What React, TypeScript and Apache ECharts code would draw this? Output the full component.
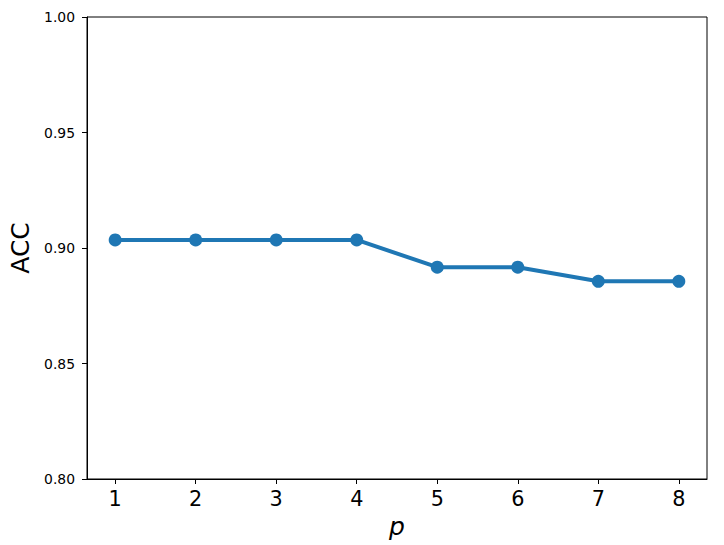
import React, { useEffect, useRef } from "react";
import * as echarts from "echarts";

const pValues = [1, 2, 3, 4, 5, 6, 7, 8];
const accValues = [0.9035, 0.9035, 0.9035, 0.9035, 0.8917, 0.8917, 0.8856, 0.8856];

export default function App() {
  const ref = useRef<HTMLDivElement>(null);
  useEffect(() => {
    if (!ref.current) return;
    const chart = echarts.init(ref.current, null, { renderer: "svg" });
    const font = "DejaVu Sans";
    chart.setOption({
      animation: false,
      backgroundColor: "#fff",
      grid: {
        left: 87,
        right: 17,
        top: 17,
        bottom: 66,
        containLabel: false,
        outerBoundsMode: "none",
        show: true,
        borderColor: "#000",
        borderWidth: 1,
        backgroundColor: "transparent",
      },
      xAxis: {
        type: "value",
        min: 0.65,
        max: 8.35,
        name: "p",
        nameLocation: "middle",
        nameGap: 33,
        nameTextStyle: { fontFamily: font, fontSize: 25, fontStyle: "italic", color: "#000" },
        axisLine: { show: true, onZero: false, lineStyle: { color: "#000", width: 1 } },
        axisTick: { show: true, inside: false, length: 5, lineStyle: { color: "#000" }, customValues: pValues },
        axisLabel: {
          customValues: pValues,
          fontFamily: font,
          fontSize: 20.8,
          color: "#000",
          margin: 9,
          formatter: (v: number) => String(v),
        },
        splitLine: { show: false },
      },
      yAxis: {
        type: "value",
        min: 0.8,
        max: 1.0,
        interval: 0.05,
        name: "ACC",
        nameLocation: "middle",
        nameGap: 54,
        nameTextStyle: { fontFamily: font, fontSize: 25, color: "#000" },
        axisLine: { show: true, onZero: false, lineStyle: { color: "#000", width: 1 } },
        axisTick: { show: true, inside: false, length: 5, lineStyle: { color: "#000" } },
        axisLabel: {
          fontFamily: font,
          fontSize: 13.9,
          color: "#000",
          margin: 12,
          formatter: (v: number) => v.toFixed(2),
        },
        splitLine: { show: false },
      },
      series: [
        {
          type: "line",
          data: pValues.map((p, i) => [p, accValues[i]]),
          symbol: "circle",
          symbolSize: 13,
          itemStyle: { color: "#1f77b4" },
          lineStyle: { color: "#1f77b4", width: 4 },
        },
      ],
    });
    return () => chart.dispose();
  }, []);
  return (
    <div
      ref={ref}
      style={{ position: "fixed", left: 0, top: 0, width: 724, height: 545 }}
    />
  );
}
